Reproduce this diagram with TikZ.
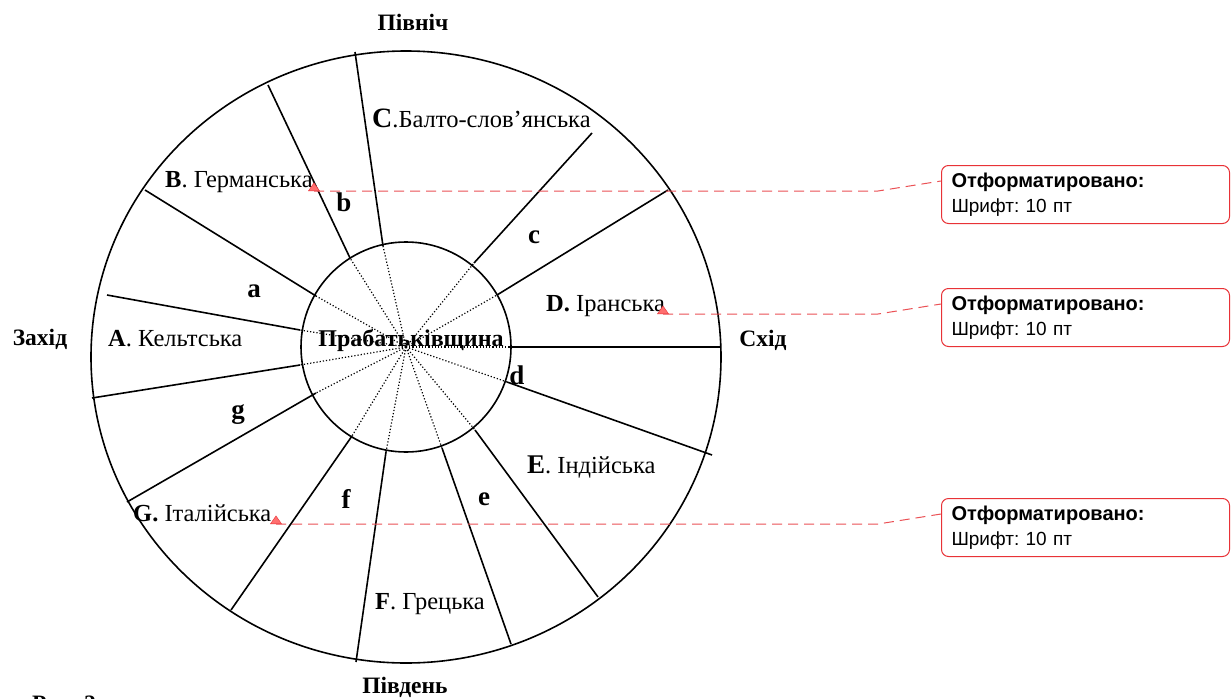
\documentclass[tikz,border=0pt]{standalone}
\usepackage{fontspec}
\setmainfont{Liberation Serif}
\newfontfamily\notefont{Liberation Sans}
\usetikzlibrary{positioning}
\usetikzlibrary{shapes.geometric}
\definecolor{noteRed}{RGB}{232, 50, 55}
\definecolor{markFill}{RGB}{255, 110, 110}
\tikzset{myWheelLine/.style={line width=1.6pt,color=black}}
\tikzset{myRay/.style={dotted, line width=1.2pt,color=black}}
\tikzset{myBranch/.style={font=\fontsize{24.5}{27}\selectfont, anchor=base west, inner sep=0pt}}
\tikzset{mySector/.style={font=\bfseries\fontsize{27}{29}\selectfont, inner sep=0pt}}
\tikzset{mySide/.style={font=\bfseries\fontsize{23.5}{25}\selectfont, inner sep=0pt}}
\tikzset{myNote/.style={draw=noteRed, line width=1pt, rounded corners=7pt, minimum width=288pt, minimum height=58pt, align=left, text width=268pt, inner xsep=10pt, inner ysep=4pt, font=\notefont\frenchspacing\fontsize{19}{25}\selectfont}}
\tikzset{myNoteLine/.style={noteRed!85, line width=1pt, dash pattern=on 10pt off 6pt}}
\tikzset{myMark/.style={isosceles triangle, shape border rotate=90, isosceles triangle apex angle=70, draw=noteRed, fill=markFill, inner sep=0pt, minimum height=8pt, minimum width=9pt}}

\begin{document}
\begin{tikzpicture}[x=1pt, y=-1pt]
	\clip (0,0) rectangle (1232,699);
	\fill[white] (0,0) rectangle (1232,699);
	% wheel
	\draw[myWheelLine] (406,357) ellipse [x radius=315pt, y radius=306pt];
	\draw[myWheelLine, fill=white] (406,347) circle [radius=105pt];
	\coordinate (O) at (406,347);

	% rays inside the homeland
	\draw[myRay] (O) -- (350,258);
	\draw[myRay] (O) -- (383,246);
	\draw[myRay] (O) -- (474,263);
	\draw[myRay] (O) -- (497,295);
	\draw[myRay] (O) -- (510,347);
	\draw[myRay] (O) -- (507,382);
	\draw[myRay] (O) -- (475,430);
	\draw[myRay] (O) -- (442,448);
	\draw[myRay] (O) -- (386,452);
	\draw[myRay] (O) -- (352,436);
	\draw[myRay] (O) -- (316,393);
	\draw[myRay] (O) -- (300,365);
	\draw[myRay] (O) -- (300,330);
	\draw[myRay] (O) -- (316,296);

	% spokes
	\draw[myWheelLine] (350,258) -- (268,85);
	\draw[myWheelLine] (383,246) -- (355,52);
	\draw[myWheelLine] (474,263) -- (592,133);
	\draw[myWheelLine] (497,295) -- (668,190);
	\draw[myWheelLine] (510,347) -- (721,347);
	\draw[myWheelLine] (507,382) -- (712,455);
	\draw[myWheelLine] (475,430) -- (598,597);
	\draw[myWheelLine] (442,448) -- (511,644);
	\draw[myWheelLine] (386,452) -- (356,662);
	\draw[myWheelLine] (352,436) -- (231,610);
	\draw[myWheelLine] (316,393) -- (127,502);
	\draw[myWheelLine] (300,365) -- (92,398);
	\draw[myWheelLine] (300,330) -- (107,295);
	\draw[myWheelLine] (316,296) -- (145,190);

	\node[font=\bfseries\fontsize{24}{26}\selectfont, inner sep=0pt] (home) at (411,340) {Прабатьківщина};

	% sides of the world
	\node[mySide] (north) at (413,22) {Північ};
	\node[mySide] (south) at (405,687) {Південь};
	\node[mySide] (west) at (40,339) {Захід};
	\node[mySide] (east) at (763,340) {Схід};

	% branches
	\node[myBranch] (brC) at (372,127) {{\bfseries\fontsize{28}{30}\selectfont C}.Балто-слов’янська};
	\node[myBranch] (brB) at (165,187) {\textbf{B}. Германська};
	\node[myBranch] (brD) at (546,311) {\textbf{D.} Іранська};
	\node[myBranch] (brA) at (108,346) {\textbf{A}. Кельтська};
	\node[myBranch] (brE) at (527,473) {{\bfseries\fontsize{27}{29}\selectfont E}. Індійська};
	\node[myBranch] (brG) at (133,521) {\textbf{G.} Італійська};
	\node[myBranch] (brF) at (375,609) {\textbf{F}. Грецька};

	% sectors
	\node[mySector] (sa) at (254,291) {a};
	\node[mySector] (sb) at (344,202) {b};
	\node[mySector] (sc) at (534,237) {c};
	\node[mySector] (sd) at (517,375) {d};
	\node[mySector] (se) at (484,499) {e};
	\node[mySector] (sf) at (346,499) {f};
	\node[mySector] (sg) at (238,415) {g};

	% caption, cut by the page
	\node[font=\bfseries\fontsize{23.5}{25}\selectfont, anchor=north west, inner sep=0pt] (cap) at (32,696) {Рис. 2};

	% comment balloons
	\node[myNote, anchor=north west] (n1) at (941,165) {{\bfseries\fontsize{20}{25}\selectfont Отформатировано:}\\Шрифт: 10 пт};
	\node[myNote, anchor=north west] (n2) at (941,288) {{\bfseries\fontsize{20}{25}\selectfont Отформатировано:}\\Шрифт: 10 пт};
	\node[myNote, anchor=north west] (n3) at (941,498) {{\bfseries\fontsize{20}{25}\selectfont Отформатировано:}\\Шрифт: 10 пт};

	\node[myMark] (m1) at (314,188) {};
	\node[myMark] (m2) at (663,311) {};
	\node[myMark] (m3) at (276,521) {};
	\coordinate (k1) at (878,191);
	\coordinate (k2) at (878,314);
	\coordinate (k3) at (878,524);
	\coordinate (e1) at (941,181);
	\coordinate (e2) at (941,304);
	\coordinate (e3) at (941,514);
	\draw[myNoteLine] (m1.south) -- (k1) -- (e1);
	\draw[myNoteLine] (m2.south) -- (k2) -- (e2);
	\draw[myNoteLine] (m3.south) -- (k3) -- (e3);
\end{tikzpicture}
\end{document}
